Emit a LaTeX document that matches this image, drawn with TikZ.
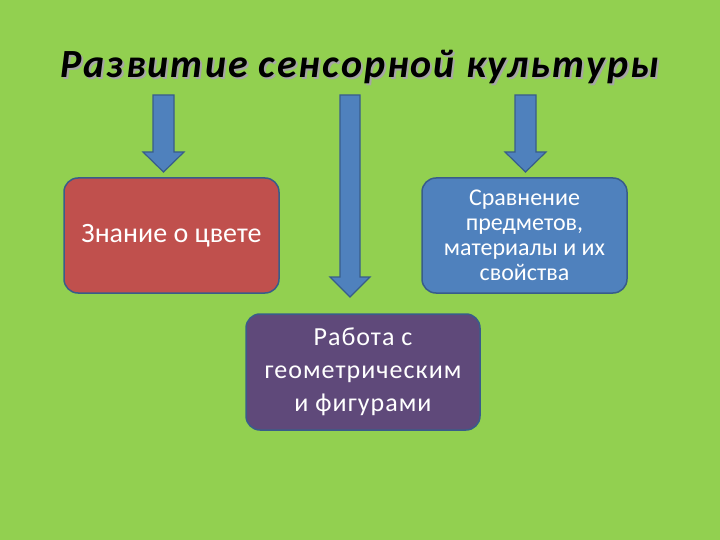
\documentclass[tikz,border=0pt]{standalone}
\usepackage{fontspec}
\setmainfont{Carlito}
\newfontfamily\titlefont[LetterSpace=5]{Carlito}
\newfontfamily\spacedfont[LetterSpace=4]{Carlito}
\definecolor{bggreen}{HTML}{92D050}
\definecolor{arrowblue}{HTML}{4F81BD}
\definecolor{edgeblue}{HTML}{385D8A}
\definecolor{boxred}{HTML}{C0504D}
\definecolor{boxpurple}{HTML}{5F497A}
\tikzset{
  rbox/.style={draw=edgeblue, line width=1.5pt, rounded corners=14pt, text=white,
    align=center, inner sep=2pt},
  downarrow/.style={fill=arrowblue, draw=edgeblue, line width=1.2pt, line join=miter},
  titlestyle/.style={font=\titlefont\fontsize{40}{48}\selectfont\bfseries\itshape},
}
\begin{document}
\begin{tikzpicture}[x=1pt,y=-1pt]
\fill[bggreen] (0,0) rectangle (720,540);
\useasboundingbox (0,0) rectangle (720,540);
% title
\node[titlestyle, text=black!35] at (362,69) {Развитие сенсорной культуры};
\node (title) [titlestyle, text=black] at (360,67) {Развитие сенсорной культуры};
% arrows
\draw[downarrow] (153,95) -- (174,95) -- (174,152) -- (184,152) -- (163.5,172) -- (143,152) -- (153,152) -- cycle;
\draw[downarrow] (340,95) -- (360,95) -- (360,277) -- (370,277) -- (350,297) -- (330,277) -- (340,277) -- cycle;
\draw[downarrow] (515,95) -- (536,95) -- (536,152) -- (546,152) -- (525.5,172) -- (505,152) -- (515,152) -- cycle;
% boxes
\node (color) [rbox, fill=boxred, minimum width=215pt, minimum height=115pt,
  font=\fontsize{28}{32}\selectfont] at (171.5,235.5) {Знание о цвете};
\node (compare) [rbox, fill=arrowblue, minimum width=205pt, minimum height=115pt,
  font=\fontsize{24}{25}\selectfont] at (524.5,235.5) {Сравнение\\предметов,\\материалы и их\\свойства};
\node (geom) [rbox, fill=boxpurple, minimum width=234pt, minimum height=116pt,
  font=\spacedfont\fontsize{26}{33}\selectfont] at (363,372) {Работа с\\геометрическим\\и фигурами};
\end{tikzpicture}
\end{document}
